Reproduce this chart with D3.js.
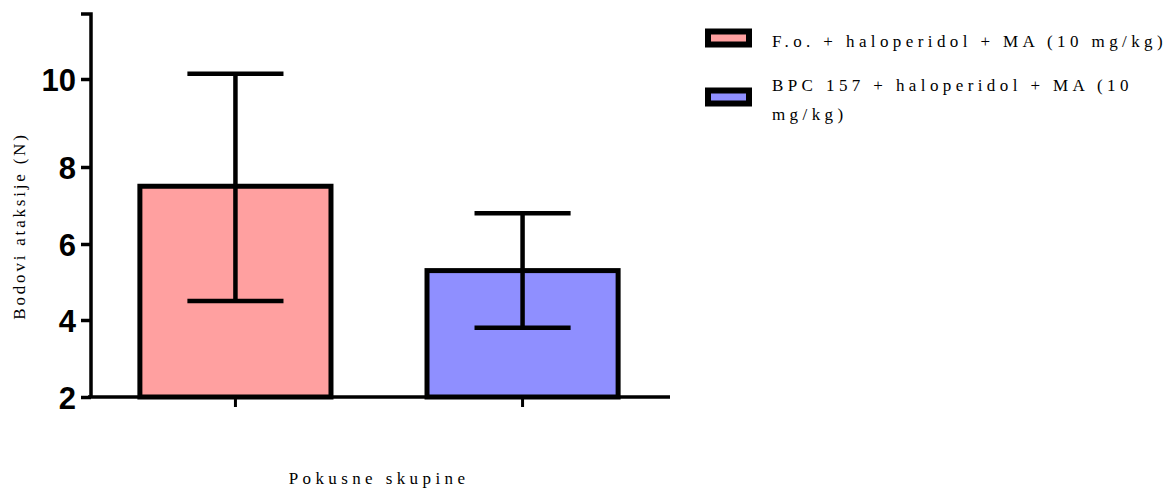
<!DOCTYPE html>
<html>
<head>
<meta charset="utf-8">
<script src="https://cdn.jsdelivr.net/npm/d3@7"></script>
<style>
  html, body { margin: 0; padding: 0; background: #fff; }
  svg { display: block; }
  .ser { font-family: "Liberation Serif", "Times New Roman", serif; font-size: 17px; letter-spacing: 4.4px; fill: #000; }
</style>
</head>
<body>
<svg id="chart" width="1169" height="488"></svg>
<script>
// ---- data ----
const categories = ["F.o. + haloperidol + MA (10 mg/kg)", "BPC 157 + haloperidol + MA (10 mg/kg)"];
const means = [7.5, 5.3];
const errHigh = [10.12, 6.8];
const errLow = [4.5, 3.8];
const colors = ["#ffa0a0", "#8f8fff"];
const yTicks = [2, 4, 6, 8, 10];
const yTickLabels = ["2", "4", "6", "8", "10"];
const legendLines = [["F.o. + haloperidol + MA (10 mg/kg)"], ["BPC 157 + haloperidol + MA (10", "mg/kg)"]];
const yTitle = "Bodovi ataksije (N)";
const xTitle = "Pokusne skupine";

const svg = d3.select("#chart");

// segmented y axis (as in the reference, the 8–10 segment is stretched)
const y = d3.scaleLinear()
  .domain([2, 4, 6, 8, 10, 11.5])
  .range([397, 320, 244, 167, 79, 14]);

const x = d3.scaleBand()
  .domain(categories)
  .range([88, 670])
  .paddingInner(0.317)
  .paddingOuter(0.172);

const bw = x.bandwidth();

// bars
svg.append("g").selectAll("rect")
  .data(categories)
  .enter().append("rect")
  .attr("x", d => x(d) + 2.5)
  .attr("width", bw - 5)
  .attr("y", (d, i) => y(means[i]))
  .attr("height", (d, i) => y(2) - y(means[i]))
  .attr("fill", (d, i) => colors[i])
  .attr("stroke", "#000")
  .attr("stroke-width", 5);

// error bars
const eg = svg.append("g").attr("stroke", "#000").attr("stroke-width", 4.5);
categories.forEach((c, i) => {
  const cx = x(c) + bw / 2;
  const cw = bw * 0.245;
  eg.append("line").attr("x1", cx).attr("x2", cx).attr("y1", y(errHigh[i])).attr("y2", y(errLow[i]));
  eg.append("line").attr("x1", cx - cw).attr("x2", cx + cw).attr("y1", y(errHigh[i])).attr("y2", y(errHigh[i]));
  eg.append("line").attr("x1", cx - cw).attr("x2", cx + cw).attr("y1", y(errLow[i])).attr("y2", y(errLow[i]));
});

// y axis
const yAxis = d3.axisLeft(y).tickValues(yTicks).tickFormat((d, i) => yTickLabels[i]).tickSize(10).tickSizeOuter(0).tickPadding(5);
const yg = svg.append("g").attr("transform", "translate(91,0)").call(yAxis);
yg.select(".domain").attr("stroke-width", 3.5).attr("d", `M-10,${y(11.5)}H0V${y(2)}`);
yg.selectAll(".tick line").attr("stroke-width", 3.5);
yg.selectAll(".tick text").attr("font-family", "Liberation Sans, Arial, sans-serif").attr("font-weight", "bold").attr("font-size", 31).attr("fill", "#000").attr("dy", "0.36em");

// x axis
const xAxis = d3.axisBottom(x).tickSize(10).tickSizeOuter(0).tickFormat("");
const xg = svg.append("g").attr("transform", `translate(0,${y(2)})`).call(xAxis);
xg.select(".domain").attr("stroke-width", 3.5).attr("d", `M88,0H670`);
xg.selectAll(".tick line").attr("stroke-width", 3);

// axis titles
svg.append("text").attr("class", "ser")
  .attr("transform", "translate(25,226) rotate(-90)")
  .attr("text-anchor", "middle")
  .style("letter-spacing", "2.8px")
  .text(yTitle);
svg.append("text").attr("class", "ser")
  .attr("x", 379).attr("y", 484)
  .attr("text-anchor", "middle")
  .text(xTitle);

// legend
const lg = svg.append("g");
const legY = [38, 97];
legendLines.forEach((lines, i) => {
  lg.append("rect").attr("x", 708).attr("y", legY[i] - 6.5).attr("width", 41).attr("height", 13)
    .attr("fill", colors[i]).attr("stroke", "#000").attr("stroke-width", 6);
  const t = lg.append("text").attr("class", "ser").attr("x", 772);
  const startY = lines.length === 1 ? legY[i] + 9 : legY[i] - 6;
  lines.forEach((ln, j) => {
    t.append("tspan").attr("x", 772).attr("y", startY + j * 29).text(ln);
  });
});
</script>
</body>
</html>
